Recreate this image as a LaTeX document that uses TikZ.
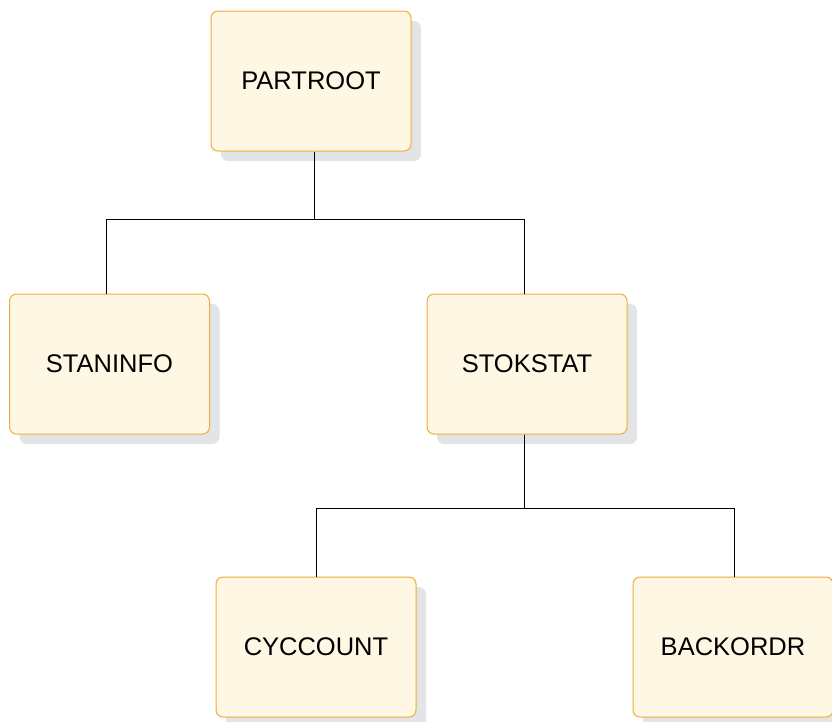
\documentclass[tikz,border=0pt]{standalone}
\usepackage{fontspec}
\setmainfont{Liberation Sans}
\usetikzlibrary{shadows}
\definecolor{segfill}{HTML}{FDF7E4}
\definecolor{segdraw}{HTML}{F0AC3A}
\definecolor{segshade}{HTML}{E3E4E6}
\begin{document}
\begin{tikzpicture}[x=1pt, y=-1pt, thin,
    segbox/.style={draw=segdraw, fill=segfill, line width=1pt, rounded corners=7pt,
      minimum width=200pt, minimum height=140pt, inner sep=0pt,
      font=\fontsize{25.5}{30}\selectfont,
      drop shadow={shadow xshift=10pt, shadow yshift=-10pt, fill=segshade, opacity=1}},
    link/.style={draw=black, line width=0.9pt}]
  % 1. fester Rahmen (Bildgroesse)
  \useasboundingbox (0,0) rectangle (832,721);

  % 2. Segmente
  \node[segbox] (partroot) at (311,81)    {PARTROOT};
  \node[segbox] (staninfo) at (109.5,364) {STANINFO};
  \node[segbox] (stokstat) at (527,364)   {STOKSTAT};
  \node[segbox] (cyccount) at (316,647)   {CYCCOUNT};
  \node[segbox] (backordr) at (733,647)   {BACKORDR};

  % 3. Verbindungen
  \draw[link] ([xshift=3pt]partroot.south) -- ++(0,68) -| ([xshift=-3.5pt]staninfo.north);
  \draw[link] ([xshift=3pt]partroot.south) -- ++(0,68) -| ([xshift=-3pt]stokstat.north);
  \draw[link] ([xshift=-3pt]stokstat.south) -- ++(0,74) -| (cyccount.north);
  \draw[link] ([xshift=-3pt]stokstat.south) -- ++(0,74) -| ([xshift=1.5pt]backordr.north);
\end{tikzpicture}
\end{document}
